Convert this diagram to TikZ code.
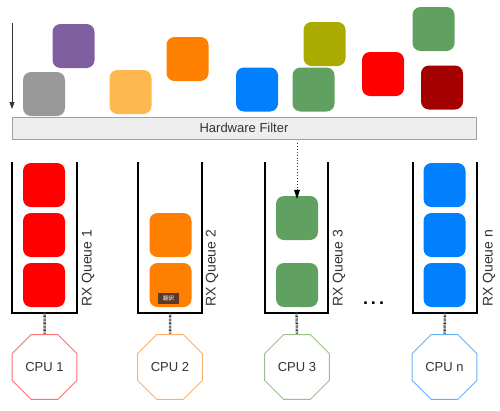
\documentclass[tikz,border=0pt]{standalone}
\usepackage{fontspec}
\setmainfont{Liberation Sans}
\newfontfamily\cjkfont{Noto Sans CJK JP}
\usetikzlibrary{shapes.geometric,arrows.meta}
\definecolor{cgray}{HTML}{999999}
\definecolor{cpurple}{HTML}{7F5F9F}
\definecolor{clorange}{HTML}{FFB84F}
\definecolor{corange}{HTML}{FF8000}
\definecolor{cblue}{HTML}{007FFF}
\definecolor{colive}{HTML}{AAAA00}
\definecolor{cgreen}{HTML}{60A060}
\definecolor{cred}{HTML}{FF0000}
\definecolor{cdred}{HTML}{A50000}
\definecolor{cfill}{HTML}{EEEEEE}
\definecolor{cborder}{HTML}{A0A0A0}
\definecolor{ctext}{HTML}{333333}
\definecolor{cpu1c}{HTML}{FF7070}
\definecolor{cpu2c}{HTML}{FFB066}
\definecolor{cpu3c}{HTML}{97C28A}
\definecolor{cpunc}{HTML}{66B2FF}
\definecolor{cbadge}{HTML}{5A3A2A}
\begin{document}
\begin{tikzpicture}[x=1pt,y=-1pt,
  pkt/.style={rectangle, rounded corners=8pt, minimum width=42pt, minimum height=44pt, inner sep=0pt, fill=#1, draw=none},
  qwall/.style={draw=black, line width=1.4pt},
  qlabel/.style={rotate=90, anchor=west, inner sep=0pt, text=ctext, font=\fontsize{14}{14}\selectfont},
  cpu/.style={regular polygon, regular polygon sides=8, minimum size=70pt, inner sep=0pt, draw=#1, line width=1pt, fill=white, text=ctext, font=\fontsize{13}{13}\selectfont},
  stem/.style={draw=ctext, line width=2.5pt, dash pattern=on 0.7pt off 0.7pt},
  flow/.style={draw=ctext, line width=0.8pt, -{Triangle[length=7pt,width=5pt]}},
  ]
\useasboundingbox (0,0) rectangle (500,410);
% incoming packets
\node[pkt=cgray] (p1) at (44,94) {};
\node[pkt=cpurple] (p2) at (73.5,46) {};
\node[pkt=clorange] (p3) at (130.5,92) {};
\node[pkt=corange] (p4) at (187.5,59) {};
\node[pkt=cblue] (p5) at (257,89.5) {};
\node[pkt=colive] (p6) at (324.5,44) {};
\node[pkt=cgreen] (p7) at (313.5,89.5) {};
\node[pkt=cred] (p8) at (383,74) {};
\node[pkt=cgreen] (p9) at (433.5,29) {};
\node[pkt=cdred] (p10) at (442,87.5) {};
% flow arrow
\coordinate (fa) at (12,23);
\coordinate (fb) at (12,109);
\draw[flow] (fa) -- (fb);
% hardware filter
\node[rectangle, draw=cborder, fill=cfill, line width=0.8pt, minimum width=464pt, minimum height=22pt, inner sep=0pt, text=ctext, font=\fontsize{13}{13}\selectfont] (hf) at (244,128) {Hardware Filter};
% queues
\foreach \n/\l/\r in {1/12/77, 2/138/202, 3/265/328, n/413/477}{
  \draw[qwall] (\l,162) -- (\l,313) -- (\r,313) -- (\r,162);
}
\coordinate (q1) at (44.5,313);
\coordinate (q2) at (170,313);
\coordinate (q3) at (296.5,313);
\coordinate (qn) at (445,313);
% queue packets
\node[pkt=cred] (a1) at (44,185) {};
\node[pkt=cred] (a2) at (44,235) {};
\node[pkt=cred] (a3) at (44,285) {};
\node[pkt=corange] (b1) at (170.5,235) {};
\node[pkt=corange] (b2) at (170.5,285) {};
\node[pkt=cgreen] (c1) at (297,218) {};
\node[pkt=cgreen] (c2) at (297,285) {};
\node[pkt=cblue] (d1) at (444.5,185) {};
\node[pkt=cblue] (d2) at (444.5,235) {};
\node[pkt=cblue] (d3) at (444.5,285) {};
% badge
\node[rectangle, fill=cbadge, minimum width=21pt, minimum height=11pt, inner sep=0pt, text=white, font=\cjkfont\fontsize{5.5}{5.5}\selectfont] (badge) at (168.5,298.5) {翻訳};
% dotted arrow
\coordinate (da) at (297,143);
\draw[draw=ctext, line width=0.9pt, dotted] (da) -- ([yshift=-2pt]c1.north);
\draw[draw=none, fill=black] ([yshift=-3pt]c1.north) -- ++(-3,-9) -- ++(6,0) -- cycle;
% labels
\node[qlabel] (l1) at (88,307) {RX Queue 1};
\node[qlabel] (l2) at (212,307) {RX Queue 2};
\node[qlabel] (l3) at (339,307) {RX Queue 3};
\node[qlabel] (ln) at (489,307) {RX Queue n};
\node[font=\bfseries\fontsize{18}{18}\selectfont, inner sep=0pt] (dots) at (373.5,303) {.\,.\,.};
% cpus
\node[cpu=cpu1c] (cpu1) at (44.5,367) {CPU 1};
\node[cpu=cpu2c] (cpu2) at (170,367) {CPU 2};
\node[cpu=cpu3c] (cpu3) at (297,367) {CPU 3};
\node[cpu=cpunc] (cpun) at (444.5,367) {CPU n};
% stems
\draw[stem] ([yshift=1pt]q1) -- (cpu1.north);
\draw[stem] ([yshift=1pt]q2) -- (cpu2.north);
\draw[stem] ([yshift=1pt]q3) -- (cpu3.north);
\draw[stem] ([yshift=1pt]qn) -- (cpun.north);
\end{tikzpicture}
\end{document}
